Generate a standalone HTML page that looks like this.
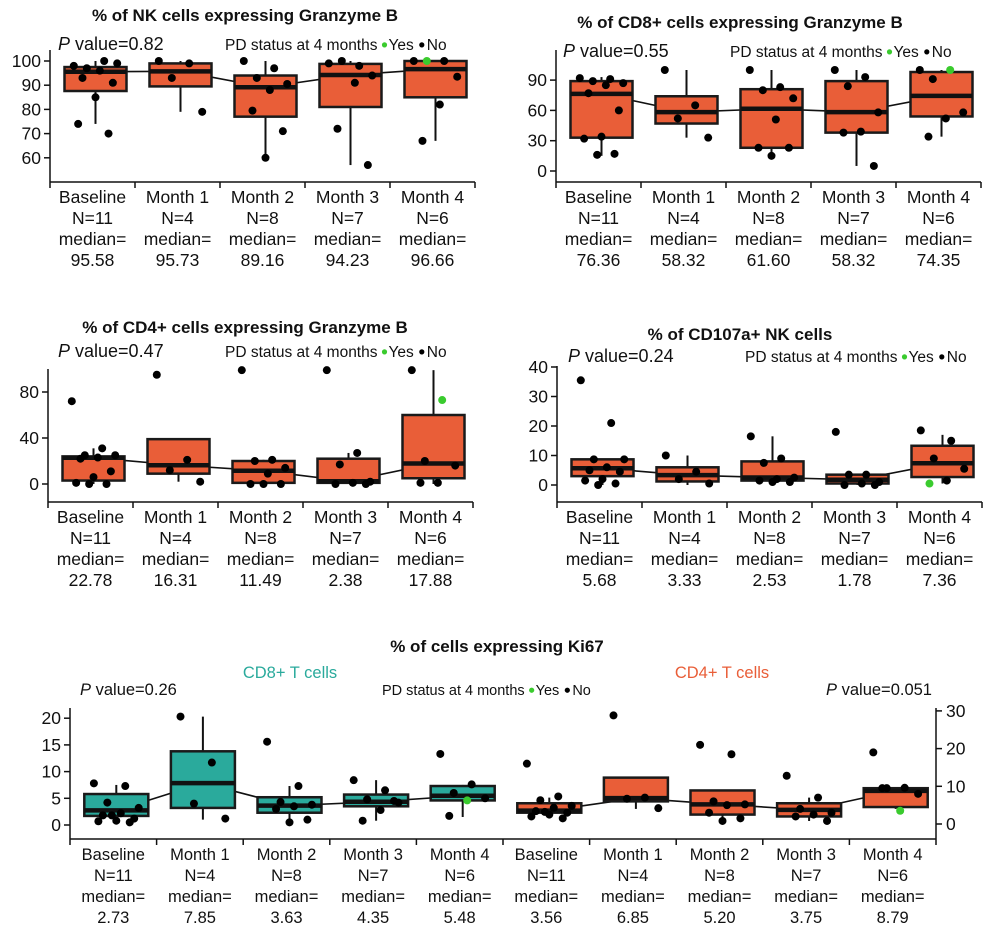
<!DOCTYPE html>
<html><head><meta charset="utf-8"><style>
html,body{margin:0;padding:0;background:#fff;}
svg{display:block;font-family:"Liberation Sans",sans-serif;}
</style></head><body>
<svg id="chart" width="993" height="942" viewBox="0 0 993 942" xmlns="http://www.w3.org/2000/svg"></svg>
<script>
// ---------- data ----------
const categories = ["Baseline","Month 1","Month 2","Month 3","Month 4"];
// Panel A: NK GzB
const nkN = [11,4,8,7,6];
const nkMedLabel = ["95.58","95.73","89.16","94.23","96.66"];
const nkQ1 = [87.6,89.5,77,81,85];
const nkMed = [95.58,95.73,89.16,94.23,96.66];
const nkQ3 = [97.5,99,94,98.8,100];
const nkLo = [74,79,60,57,67];
const nkHi = [100,100,100,100,100];
const nkPts = [[98,100,97,99,96,93,91,85,74,70],[100,99,93,79],[100,97,93,90.5,88,79.5,71,60],[99,98,100,94,91,72,57],[100,100,100,93.5,82,67]];
const nkGreen = [-1,-1,-1,-1,2];
// Panel B: CD8 GzB
const cd8N = [11,4,8,7,6];
const cd8MedLabel = ["76.36","58.32","61.60","58.32","74.35"];
const cd8Q1 = [33,47,23,38,54];
const cd8Med = [76.36,58.32,61.6,58.32,74.35];
const cd8Q3 = [89,74,81,89,98];
const cd8Lo = [15,33,15,5,34];
const cd8Hi = [93,100,100,100,100];
const cd8Pts = [[92,91,89,87,85,77,60,34,32,17,16],[100,65,52,33],[100,83,80,72,51,23,23,15],[100,93,84,58,39,38,5],[100,100,91,58,52,34]];
const cd8Green = [-1,-1,-1,-1,1];
// Panel C: CD4 GzB
const cd4N = [11,4,8,7,6];
const cd4MedLabel = ["22.78","16.31","11.49","2.38","17.88"];
const cd4Q1 = [3,9,1,1,5];
const cd4Med = [22.78,16.31,11.49,2.38,17.88];
const cd4Q3 = [24,39,20,22,60];
const cd4Lo = [0,2,0,0,0];
const cd4Hi = [31,39,21,27,99];
const cd4Pts = [[72,31,25,25,23,22,11,6,1,0,0],[95,21,12,2],[99,21,20,14,9,0,0,0],[99,27,17,2,1,0,0],[99,73,20,16,1,1]];
const cd4Green = [-1,-1,-1,-1,1];
// Panel D: CD107a
const cdaN = [11,4,8,7,6];
const cdaMedLabel = ["5.68","3.33","2.53","1.78","7.36"];
const cdaQ1 = [3,1.2,1.5,0.5,2.7];
const cdaMed = [5.68,3.33,2.53,1.78,7.36];
const cdaQ3 = [8.7,6,8,3.5,13.3];
const cdaLo = [0,0,1,0,0.5];
const cdaHi = [8.7,10,16.5,3.5,17];
const cdaPts = [[35.5,21,8.7,8.7,6,5,4.5,2,1.5,0.5,0],[10,4.5,2,0.5],[16.5,9,7.5,2.5,2,1.5,1,1],[18,3.5,3.5,1,0.5,0,0],[18.5,15,9,5.5,1.5,0.5]];
const cdaGreen = [-1,-1,-1,-1,5];
// Panel E: Ki67 CD8 (left) and CD4 (right)
const k8N = [11,4,8,7,6];
const k8MedLabel = ["2.73","7.85","3.63","4.35","5.48"];
const k8Q1 = [1.7,3.2,2.3,3.5,4.6];
const k8Med = [2.73,7.85,3.63,4.35,5.48];
const k8Q3 = [5.8,13.8,5.2,5.7,7.3];
const k8Lo = [0.5,1,0.5,0.8,1.5];
const k8Hi = [7.5,20.3,7.3,8.4,7.5];
const k8Pts = [[7.8,7.3,4.2,3.2,2.2,1.8,1.2,0.8,0.7,0.5,1.8],[20.3,11.7,4,1.2],[15.6,7.3,4.3,3.8,3.5,3,1,0.5],[8.4,6.5,4.8,4.2,2.8,0.8,4.5],[13.3,7.6,6,5,4.6,1.7]];
const k8Green = [-1,-1,-1,-1,4];
const k4N = [11,4,8,7,6];
const k4MedLabel = ["3.56","6.85","5.20","3.75","8.79"];
const k4Q1 = [3,6,2.5,2,4.5];
const k4Med = [3.56,6.85,5.2,3.75,8.79];
const k4Q3 = [5.5,12.3,8.9,5.5,9.5];
const k4Lo = [1.5,4,1,0.8,4];
const k4Hi = [7,12.3,8.9,7,9.5];
const k4Pts = [[16,7.3,6.3,4.8,4.3,3.4,3,2.5,2,1.5,3.2],[28.8,7,6.7,4.2],[21,18.5,6,5.2,5,3,1.5,0.8],[12.8,7,4,3,2.5,2,0.8],[19,9.6,9.5,8,3.5,9.5]];
const k4Green = [-1,-1,-1,-1,4];
const ticksA = [60,70,80,90,100];
const ticksB = [0,30,60,90];
const ticksC = [0,40,80];
const ticksD = [0,10,20,30,40];
const ticksE8 = [0,5,10,15,20];
const ticksE4 = [0,10,20,30];

// ---------- drawing ----------
const NS="http://www.w3.org/2000/svg";
const svg=document.getElementById('chart');
function mk(tag,attrs,parent){const e=document.createElementNS(NS,tag);for(const k in attrs)e.setAttribute(k,attrs[k]);(parent||svg).appendChild(e);return e;}
function txt(x,y,s,size,anchor,parent,extra){const t=mk('text',Object.assign({x:x,y:y,'font-size':size,'text-anchor':anchor||'middle',fill:'#111'},extra||{}),parent);t.textContent=s;return t;}
const ORANGE="#E95E38", TEAL="#2AAA9C";

function drawBoxes(g,cfg){
  const {x0,step,yScale,q1,med,q3,lo,hi,pts,green,color,boxW}=cfg;
  const cx=i=>x0+step*(i+0.5)+3;
  const ml=mk('polyline',{points:med.map((m,i)=>cx(i)+','+yScale(m)).join(' '),fill:'none',stroke:'#111','stroke-width':1.6},g);
  
  
  for(let i=0;i<med.length;i++){
    const bg=mk('g',{},g);
    
    
    const w=mk('line',{x1:cx(i),x2:cx(i),y1:yScale(lo[i]),y2:yScale(hi[i]),stroke:'#111','stroke-width':2},bg);
    
    
    const r=mk('rect',{x:cx(i)-boxW/2,y:yScale(q3[i]),width:boxW,height:Math.max(1,yScale(q1[i])-yScale(q3[i])),fill:color,stroke:'#1a1a1a','stroke-width':2.5},bg);
    
    
    const m=mk('line',{x1:cx(i)-boxW/2,x2:cx(i)+boxW/2,y1:yScale(med[i]),y2:yScale(med[i]),stroke:'#111','stroke-width':4.5},bg);
    
    
    pts[i].forEach((v,j)=>{
      const off=(((j*7)%11)/10-0.5)*boxW*0.7;
      const c=mk('circle',{cx:cx(i)+off,cy:yScale(v),r:4,fill:j===green[i]?'#3ACB2E':'#000'},bg);
      
      
    });
  }
}
function drawYAxis(g,x,yScale,ticks,top,bottom,right){
  mk('line',{x1:x,x2:x,y1:top,y2:bottom,stroke:'#111','stroke-width':1.5},g);
  ticks.forEach(t=>{
    const y=yScale(t);
    mk('line',{x1:x,x2:right?x+6:x-6,y1:y,y2:y,stroke:'#111','stroke-width':1.5},g);
    const l=txt(right?x+10:x-9,y+6,String(t),17.5,right?'start':'end',g);
    
    
  });
}
function drawXAxis(g,x0,step,n,y,cats,Ns,meds,size,lh){
  mk('line',{x1:x0,x2:x0+step*n,y1:y,y2:y,stroke:'#111','stroke-width':1.5},g);
  for(let i=0;i<=n;i++) mk('line',{x1:x0+step*i,x2:x0+step*i,y1:y,y2:y+6,stroke:'#111','stroke-width':1.5},g);
  for(let i=0;i<n;i++){
    const cx=x0+step*(i+0.5);
    const lines=[cats[i],'N='+Ns[i],'median=',meds[i]];
    lines.forEach((s,k)=>{const t=txt(cx,y+21+lh*k,s,size,'middle',g);
      
      });
  }
}
function legend(g,x,y,size){
  const t=mk('text',{x:x,y:y,'font-size':size,fill:'#111'},g);
  
  
  t.textContent='PD status at 4 months';
  const w=t.getComputedTextLength();
  const d1=mk('circle',{cx:x+w+7,cy:y-size*0.33,r:2.6,fill:'#3ACB2E'},g);
  
  
  const t2=txt(x+w+11,y,'Yes',size,'start',g);
  
  
  const w2=t2.getComputedTextLength();
  const d2=mk('circle',{cx:x+w+11+w2+8,cy:y-size*0.33,r:2.6,fill:'#000'},g);
  
  
  const t3=txt(x+w+11+w2+13,y,'No',size,'start',g);
  
  
}
function pval(g,x,y,v,size,anchor){
  const t=mk('text',{x:x,y:y,'font-size':size,fill:'#111','text-anchor':anchor||'start'},g);
  
  
  t.innerHTML='<tspan font-style="italic">P</tspan> value='+v;
}
function panel(name,o){
  const g=mk('g',{});
  
  
  const ys=v=>o.y0-(v-o.v0)*o.ppu;
  const tt=txt(o.titleX,o.titleY,o.title,17,'middle',g,{'font-weight':'bold'});
  
  
  pval(g,o.pX,o.pY,o.p,18);
  legend(g,o.legX,o.pY,15.5);
  drawYAxis(g,o.x0,ys,o.ticks,o.top,o.bottom,false);
  drawBoxes(g,{x0:o.x0,step:85,yScale:ys,q1:o.q1,med:o.med,q3:o.q3,lo:o.lo,hi:o.hi,pts:o.pts,green:o.green,color:ORANGE,boxW:62});
  drawXAxis(g,o.x0,85,5,o.bottom,categories,o.N,o.ml,17.5,21);
}
panel('panel-nk-granzyme-b',{title:'% of NK cells expressing Granzyme B',titleX:245,titleY:21,p:'0.82',pX:58,pY:50,legX:225,
  x0:50,y0:61,v0:100,ppu:2.42,top:50,bottom:182,ticks:ticksA,q1:nkQ1,med:nkMed,q3:nkQ3,lo:nkLo,hi:nkHi,pts:nkPts,green:nkGreen,N:nkN,ml:nkMedLabel});
panel('panel-cd8-granzyme-b',{title:'% of CD8+ cells expressing Granzyme B',titleX:740,titleY:28,p:'0.55',pX:563,pY:57,legX:730,
  x0:556,y0:171,v0:0,ppu:1.01,top:50,bottom:182,ticks:ticksB,q1:cd8Q1,med:cd8Med,q3:cd8Q3,lo:cd8Lo,hi:cd8Hi,pts:cd8Pts,green:cd8Green,N:cd8N,ml:cd8MedLabel});
panel('panel-cd4-granzyme-b',{title:'% of CD4+ cells expressing Granzyme B',titleX:245,titleY:333,p:'0.47',pX:58,pY:357,legX:225,
  x0:48,y0:484,v0:0,ppu:1.15,top:369,bottom:502,ticks:ticksC,q1:cd4Q1,med:cd4Med,q3:cd4Q3,lo:cd4Lo,hi:cd4Hi,pts:cd4Pts,green:cd4Green,N:cd4N,ml:cd4MedLabel});
panel('panel-cd107a-nk',{title:'% of CD107a+ NK cells',titleX:740,titleY:340,p:'0.24',pX:568,pY:362,legX:745,
  x0:557,y0:485,v0:0,ppu:2.95,top:366,bottom:502,ticks:ticksD,q1:cdaQ1,med:cdaMed,q3:cdaQ3,lo:cdaLo,hi:cdaHi,pts:cdaPts,green:cdaGreen,N:cdaN,ml:cdaMedLabel});

// Ki67 panel
(function(){
  const g=mk('g',{});
  
  
  const t=txt(497,652,'% of cells expressing Ki67',17,'middle',g,{'font-weight':'bold'});
  
  
  const s1=txt(290,678,'CD8+ T cells',16.5,'middle',g,{fill:TEAL});
  
  
  const s2=txt(722,678,'CD4+ T cells',16.5,'middle',g,{fill:ORANGE});
  
  
  pval(g,80,695,'0.26',16.5);
  pval(g,932,695,'0.051',16.5,'end');
  legend(g,382,695,14.5);
  const step=86.6, x0=70, x1=936;
  const y8=v=>825-v*5.34, y4=v=>824-v*3.77;
  drawYAxis(g,x0,y8,ticksE8,708,839,false);
  drawYAxis(g,x1,y4,ticksE4,708,839,true);
  drawBoxes(g,{x0:x0,step:step,yScale:y8,q1:k8Q1,med:k8Med,q3:k8Q3,lo:k8Lo,hi:k8Hi,pts:k8Pts,green:k8Green,color:TEAL,boxW:64});
  drawBoxes(g,{x0:x0+step*5,step:step,yScale:y4,q1:k4Q1,med:k4Med,q3:k4Q3,lo:k4Lo,hi:k4Hi,pts:k4Pts,green:k4Green,color:ORANGE,boxW:64});
  drawXAxis(g,x0,step,10,839,categories.concat(categories),k8N.concat(k4N),k8MedLabel.concat(k4MedLabel),16.5,21);
})();
</script>
</body></html>
